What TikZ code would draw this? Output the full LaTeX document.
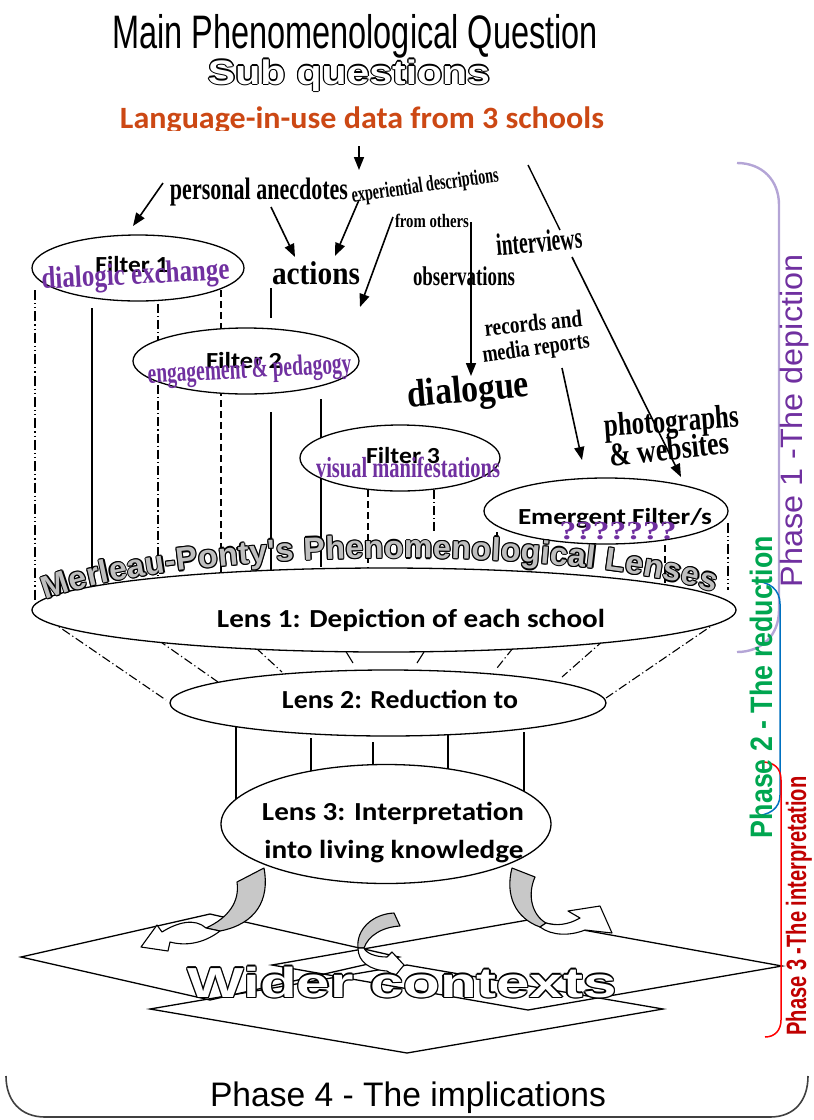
\documentclass[tikz,border=0pt]{standalone}
\usepackage{fontspec}
\usepackage{graphicx}
\usetikzlibrary{shapes.geometric,arrows.meta,decorations.text}
\setmainfont{Liberation Serif}
\newfontfamily\arialf{Liberation Sans}
\newfontfamily\calf{Carlito}

\definecolor{mpurple}{RGB}{112,48,160}
\definecolor{langorange}{RGB}{204,72,20}
\definecolor{lilac}{RGB}{180,165,214}
\definecolor{phblue}{RGB}{0,112,192}
\definecolor{phgreen}{RGB}{0,166,80}
\definecolor{phred}{RGB}{192,0,0}
\definecolor{curlgray}{RGB}{200,200,200}
\definecolor{lensgray}{RGB}{191,191,191}

% font size helper and horizontal-only fitting
\newcommand\fsz[1]{\fontsize{#1}{#1}\selectfont}
\newcommand\hfit[2]{\resizebox{#1}{\height}{#2}}

% outlined lettering: black copies around a coloured core
% #1 name, #2 position, #3 outline width, #4 fill colour, #5 text
\newcommand\hollownode[5]{%
  \foreach \hang in {0,45,...,315}
    \node[txt, shift={(\hang:#3)}, text=black] (#1-\hang) at #2 {#5};
  \node[txt, text=#4] (#1) at #2 {#5};
}

\newcommand\mpfont{\arialf\bfseries\fsz{32}}

\begin{document}
\begin{tikzpicture}[x=1pt,y=-1pt,
  txt/.style={inner sep=0pt, anchor=base},
  lens/.style={ellipse, draw, fill=white, line width=1.3pt, inner sep=0pt},
  feed/.style={line width=1.6pt, -{Triangle[length=13pt,width=10pt]}},
  strut/.style={line width=1.1pt},
  dashdot/.style={strut, dash pattern=on 9pt off 3pt on 1.2pt off 3pt},
  dashdotdot/.style={strut, dash pattern=on 10pt off 3pt on 1.2pt off 3pt on 1.2pt off 3pt},
  dashlong/.style={strut, dash pattern=on 7pt off 4pt},
  curl/.style={draw, line width=1.1pt, fill=curlgray, line join=round},
  curlback/.style={draw, line width=1.1pt, fill=white, line join=round},
  word/.style={txt, font=\bfseries},
  pword/.style={txt, font=\bfseries, text=mpurple},
  cal/.style={txt, font=\calf\bfseries},
  rhomb/.style={line width=1.3pt, line join=miter}]
\useasboundingbox (0,0) rectangle (814,1120);

% ---- struts between the filters and lens 1
\draw[dashdotdot] (35,290) -- (35,600);
\draw[strut] (92,308) -- (92,588);
\draw[dashdot] (158,304) -- (158,577);
\draw[dashlong] (221,290) -- (221,573);
\draw[strut] (271,288) -- (271,318);
\draw[strut] (271,412) -- (271,570);
\draw[strut] (321,399) -- (321,567);
\draw[dashlong] (368,490) -- (368,570);
\draw[dashdot] (434,490) -- (434,532);
\draw[strut] (497,532) -- (497,545);
\draw[dashlong] (665,545) -- (665,583);
\draw[dashdotdot] (728,523) -- (728,590);

% ---- funnel from lens 1 to lens 2
\draw[dashdot] (49,620) -- (166,700);
\draw[dashdot] (158,640) -- (218,682);
\draw[dashdot] (256,648) -- (282,672);
\draw[strut] (345,650) -- (353,663);
\draw[strut] (424,652) -- (417,663);
\draw[dashdot] (513,648) -- (497,668);
\draw[dashdot] (604,640) -- (562,677);
\draw[dashdot] (720,620) -- (606,698);

% ---- struts from lens 2 to lens 3
\draw[strut] (236,723) -- (236,800);
\draw[strut] (311,738) -- (311,773);
\draw[strut] (373,742) -- (373,768);
\draw[strut] (448,735) -- (448,770);
\draw[strut] (524,732) -- (524,797);

% ---- wider-context planes
\draw[rhomb] (21,957) -- (210,914) -- (399,957) -- (210,1000) -- cycle;
\draw[rhomb] (272,965) -- (528,920) -- (782,966) -- (528,1010) -- cycle;
\draw[rhomb] (150,1009) -- (407,965) -- (663,1009) -- (407,1053) -- cycle;

% ---- filters and lenses
\node[lens, minimum width=212pt, minimum height=66pt] (f1) at (138,268) {};
\node[lens, minimum width=226pt, minimum height=66pt] (f2) at (246,361) {};
\node[lens, minimum width=200pt, minimum height=66pt] (f3) at (400,458) {};
\node[lens, minimum width=244pt, minimum height=66pt] (fe) at (606,511) {};
\node[lens, minimum width=704pt, minimum height=84pt] (l1) at (384,610) {};
\node[lens, minimum width=436pt, minimum height=66pt] (l2) at (388,703) {};
\node[lens, minimum width=330pt, minimum height=119pt] (l3) at (386,824) {};

% ---- heading
\node[txt] (title) at (355,48) {\arialf\fsz{47}\hfit{486pt}{Main Phenomenological Question}};
\hollownode{subq}{(349,84)}{1.3pt}{white}{\arialf\bfseries\fsz{34}\hfit{282pt}{Sub questions}}
\begin{scope}
  \clip (0,95) rectangle (814,130);
  \node[txt, text=langorange] (lang) at (362,128) {\calf\bfseries\fsz{31}\hfit{484pt}{Language-in-use data from 3 schools}};
\end{scope}

% ---- data sources
\node[word] (anec) at (259,199) {\fsz{31}\hfit{178pt}{personal anecdotes}};
\node[word, rotate=8] (expd) at (426,192) {\fsz{22}\hfit{148pt}{experiential descriptions}};
\node[word] (frmo) at (432,227) {\fsz{19}\hfit{74pt}{from others}};
\node[word] (actn) at (316,284) {\fsz{33}\hfit{88pt}{actions}};
\node[word, rotate=5] (intv) at (540,252) {\fsz{31}\hfit{86pt}{interviews}};
\node[word] (obsv) at (464,285) {\fsz{27}\hfit{102pt}{observations}};
\node[word, rotate=6] (recs) at (534,331) {\fsz{24}\hfit{98pt}{records and}};
\node[word, rotate=8] (medr) at (537,355) {\fsz{24}\hfit{108pt}{media reports}};
\node[word, rotate=5] (dlg) at (469,402) {\fsz{39}\hfit{122pt}{dialogue}};
\node[word, rotate=4] (phot) at (672,432) {\fsz{33}\hfit{135pt}{photographs}};
\node[word, rotate=6] (webs) at (670,460) {\fsz{33}\hfit{120pt}{\& websites}};

% ---- filter captions
\node[cal] (f1t) at (132,272) {\fsz{23}\hfit{73pt}{Filter 1}};
\node[pword, rotate=3] (dex) at (136,284) {\fsz{31}\hfit{188pt}{dialogic exchange}};
\node[cal] (f2t) at (244,368) {\fsz{23}\hfit{76pt}{Filter 2}};
\node[pword, rotate=3] (eng) at (250,378) {\fsz{29}\hfit{204pt}{engagement \& pedagogy}};
\node[cal] (f3t) at (403,463) {\fsz{23}\hfit{74pt}{Filter 3}};
\node[pword] (vis) at (408,477) {\fsz{29}\hfit{184pt}{visual manifestations}};
\node[cal] (fet) at (615,524) {\fsz{23}\hfit{194pt}{Emergent Filter/s}};
\node[pword] (qq) at (618,539) {\fsz{26}\hfit{117pt}{???????}};

% ---- lens captions
\node[cal] (l1t) at (411,627) {\fsz{26}\hfit{388pt}{Lens 1: Depiction of each school}};
\node[cal] (l2t) at (400,708) {\fsz{26}\hfit{236pt}{Lens 2: Reduction to}};
\node[cal] (l3t) at (393,820) {\fsz{26}\hfit{262pt}{Lens 3: Interpretation}};
\node[cal] (l3u) at (394,858) {\fsz{26}\hfit{259pt}{into living knowledge}};

% ---- feeding arrows
\draw[feed] (359,146) -- (359,170);
\draw[feed] (163,183) -- (133,226);
\draw[feed] (271,207) -- (295,257);
\draw[feed] (359,200) -- (335,256);
\draw[feed] (393,217) -- (360,307);
\draw[feed] (471,222) -- (471,376);
\draw[line width=1.4pt] (528,165) -- (560,230);
\draw[feed] (572,257) -- (681,477);
\draw[feed] (562,368) -- (582,460);

% ---- arched heading over lens 1
\foreach \a in {0,45,...,315}{
  \path[shift={(\a:1.2pt)}, decorate, decoration={text along path, text align=fit to path, text color=black,
        text={|\mpfont|Merleau-Ponty's Phenomenological Lenses}}]
    (46,600) .. controls (180,548) and (560,543) .. (714,592);
}
\path[decorate, decoration={text along path, text align=fit to path, text color=lensgray,
      text={|\mpfont|Merleau-Ponty's Phenomenological Lenses}}]
  (46,600) .. controls (180,548) and (560,543) .. (714,592);

% ---- curled arrows into the wider contexts
\path[curl] (237,882) -- (264,868) .. controls (270,900) and (256,924) .. (220,931)
  -- (206,928) .. controls (228,918) and (240,902) .. (237,882) -- cycle;
\path[curlback] (220,931) .. controls (203,944) and (185,946) .. (170,942) -- (168,951) -- (141,947)
  -- (157,925) -- (162,932) .. controls (178,922) and (195,918) .. (206,928) -- cycle;

\path[curl] (394,913) -- (400,926) .. controls (382,927) and (368,936) .. (364,948)
  -- (358,948) .. controls (356,930) and (372,914) .. (394,913) -- cycle;
\path[curlback] (358,948) .. controls (358,962) and (370,970) .. (387,971) -- (395,976) -- (404,965)
  -- (392,952) -- (387,957) .. controls (375,957) and (366,953) .. (364,948) -- cycle;

\path[curl] (512,868) -- (535,877) .. controls (527,895) and (532,915) .. (546,923)
  -- (540,927) .. controls (515,918) and (505,895) .. (512,868) -- cycle;
\path[curlback] (540,927) .. controls (552,936) and (570,936) .. (585,930) -- (612,933) -- (600,906)
  -- (568,911) -- (580,918) .. controls (568,925) and (556,926) .. (546,923) -- cycle;

\hollownode{wider}{(402,997)}{1.4pt}{white}{\arialf\bfseries\fsz{42}\hfit{429pt}{Wider contexts}}

% ---- phase brackets and labels
\draw[lilac, line width=2.4pt] (737,163) .. controls (762,163) and (779,180) .. (779,205)
  -- (779,610) .. controls (779,635) and (762,652) .. (737,652);
\draw[phblue, line width=1.5pt] (752,581) .. controls (770,581) and (780,590) .. (780,604)
  -- (780,795) .. controls (780,808) and (770,816) .. (752,816);
\draw[red, line width=1.5pt] (762,762) .. controls (774,762) and (781,768) .. (781,780)
  -- (781,1020) .. controls (781,1030) and (775,1037) .. (765,1037);
\draw[black!75, line width=1.6pt] (6,1076) .. controls (6,1100) and (20,1117) .. (45,1117)
  -- (770,1117) .. controls (795,1117) and (808,1100) .. (808,1076);

\node[txt, rotate=90, text=mpurple] (ph1) at (802,421) {\arialf\fsz{31}\hfit{333pt}{Phase 1 -The depiction}};
\node[txt, rotate=90, text=phgreen] (ph2) at (772,687) {\arialf\bfseries\fsz{31}\hfit{302pt}{Phase 2 - The reduction}};
\node[txt, rotate=90, text=phred] (ph3) at (806,906) {\arialf\bfseries\fsz{28}\hfit{259pt}{Phase 3 -The interpretation}};
\node[txt] (ph4) at (408,1106) {\arialf\fsz{34}\hfit{396pt}{Phase 4 - The implications}};
\end{tikzpicture}
\end{document}
